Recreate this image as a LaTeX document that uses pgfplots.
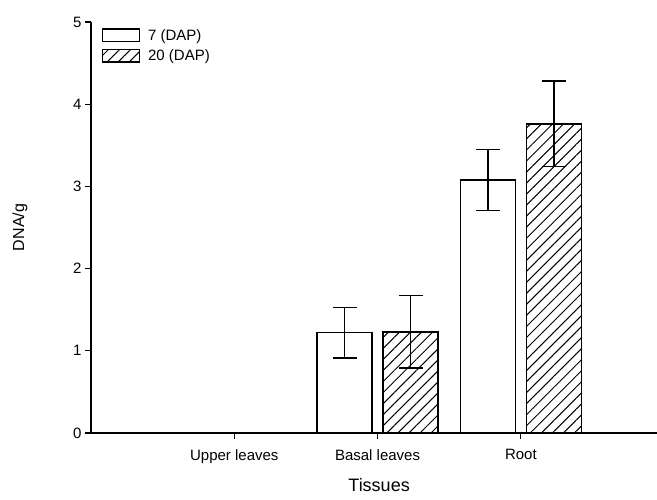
\documentclass[border=0pt]{standalone}
\usepackage{fontspec}
\setmainfont{Liberation Sans}
\usepackage{pgfplots}
\usepackage{pgfplotstable}
\pgfplotsset{compat=1.18}
\usetikzlibrary{patterns.meta}

% DNA content per tissue: mean and error, 7 and 20 days after planting
\pgfplotstableread{
x  y     err
2  1.22  0.31
3  3.08  0.37
}\daysseven
\pgfplotstableread{
x  y     err
2  1.23  0.44
3  3.76  0.52
}\daystwenty

\begin{document}
\begin{tikzpicture}
\begin{axis}[
  scale only axis, width=566pt, height=411pt,
  xmin=0, xmax=3.95, ymin=0, ymax=5,
  axis x line=bottom, axis y line=left,
  axis line style={-, line width=1.1pt},
  xtick={1,2,3}, xticklabels={Upper leaves, Basal leaves, Root},
  ytick={0,1,2,3,4,5},
  tick align=outside, major tick length=6pt,
  tick style={black, line width=1.1pt},
  /pgf/number format/assume math mode=true,
  ticklabel style={font=\fontsize{15}{18}\selectfont},
  xticklabel style={yshift=-7pt},
  xlabel={Tissues}, ylabel={DNA/g},
  xlabel style={font=\fontsize{18}{21}\selectfont, at={(rel axis cs:0.509,-0.1265)}, anchor=center},
  ylabel style={font=\fontsize{16}{19}\selectfont, at={(rel axis cs:-0.1254,0.5)}, anchor=center},
  ybar=11pt, bar width=55pt,
  legend image code/.code={\draw[#1, line width=1.2pt] (0pt,-6.3pt) rectangle (36.7pt,6.3pt);},
  legend style={at={(rel axis cs:0,1)}, anchor=north west, xshift=11pt, yshift=-5pt,
    draw=none, fill=none, inner sep=0pt, row sep=4pt, column sep=6pt,
    font=\fontsize{15}{17}\selectfont},
  legend cell align=left,
]
\addplot[draw=black, fill=white, line width=1.4pt,
  error bars/.cd, y dir=both, y explicit,
  error bar style={line width=1.4pt, black},
  error mark options={rotate=90, mark size=12pt, line width=1.4pt, black}]
  table[x=x, y=y, y error=err]{\daysseven};
\addplot[draw=black, fill=white, line width=1.4pt,
  postaction={pattern={Lines[angle=45, distance=7.8pt, line width=1pt]}},
  error bars/.cd, y dir=both, y explicit,
  error bar style={line width=1.4pt, black},
  error mark options={rotate=90, mark size=12pt, line width=1.4pt, black}]
  table[x=x, y=y, y error=err]{\daystwenty};
\legend{7 (DAP), 20 (DAP)}
\end{axis}
\pgfresetboundingbox
\path (-91pt,-67pt) rectangle (566pt,433pt);
\end{tikzpicture}
\end{document}
